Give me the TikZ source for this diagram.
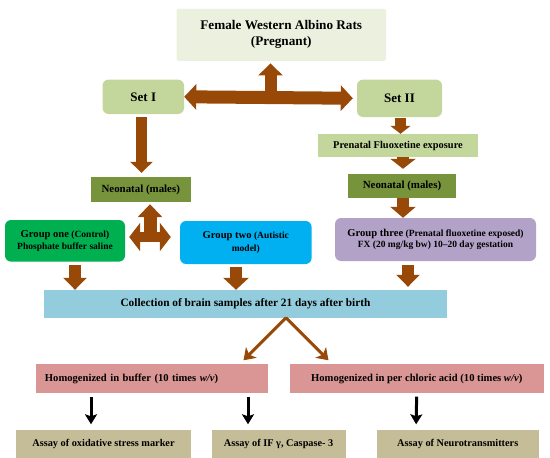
\documentclass[tikz,border=0pt]{standalone}
\usepackage{fontspec}
\setmainfont{Liberation Serif}
\usetikzlibrary{arrows.meta,positioning,calc}

\definecolor{ratsbg}{HTML}{EBF1DE}
\definecolor{setbg}{HTML}{C3D69B}
\definecolor{neobg}{HTML}{77933C}
\definecolor{gonebg}{HTML}{00B050}
\definecolor{gtwobg}{HTML}{00B0F0}
\definecolor{gthreebg}{HTML}{B3A2C7}
\definecolor{collbg}{HTML}{93CDDD}
\definecolor{homobg}{HTML}{D99694}
\definecolor{assaybg}{HTML}{C4BD97}
\definecolor{arrbrown}{HTML}{984807}

\newcommand{\fs}[1]{\fontsize{#1}{#1}\selectfont}

\tikzset{
  box/.style={inner sep=0pt, align=center, font=\bfseries\fs{10}},
  roundbox/.style={box, rounded corners=6pt},
  fat/.style={draw=arrbrown, line width=12pt, -{Triangle[width=24pt,length=12pt]}},
  thinfat/.style={draw=arrbrown, line width=3pt, -{Stealth[width=15pt,length=11pt,inset=3pt]}},
  blk/.style={draw=black, line width=3pt, -{Stealth[width=12pt,length=10pt,inset=2pt]}}
}

\begin{document}
\begin{tikzpicture}[x=1pt, y=-1pt]
  \useasboundingbox (0,0) rectangle (550,458);

  % boxes
  \node[box, fill=ratsbg, rounded corners=2pt, minimum width=209.5pt, minimum height=52pt, font=\bfseries\fs{13.2}]
    (rats) at (281.25,34.75) {Female Western Albino Rats\\[3pt](Pregnant)};
  \node[roundbox, fill=setbg, minimum width=81.5pt, minimum height=34.4pt, font=\bfseries\fs{13}] (setI) at (143.25,96.8) {Set I};
  \node[roundbox, fill=setbg, minimum width=85pt, minimum height=37.4pt, font=\bfseries\fs{13}] (setII) at (399.5,98.3) {Set II};
  \node[box, fill=setbg, minimum width=160pt, minimum height=23pt, font=\bfseries\fs{10.4}] (prenatal) at (398,145.5) {Prenatal Fluoxetine exposure};
  \node[box, fill=neobg, minimum width=100.5pt, minimum height=25pt, font=\bfseries\fs{10.9}] (neoL) at (140.75,189.5) {Neonatal (males)};
  \node[box, fill=neobg, minimum width=108pt, minimum height=24pt, font=\bfseries\fs{10.9}] (neoR) at (402,186) {Neonatal (males)};
  \node[roundbox, fill=gonebg, minimum width=120pt, minimum height=41.6pt, font=\bfseries\fs{9.5}]
    (gone) at (65,240.8) {{\fs{10.6}Group one} (Control)\\[3pt]Phosphate buffer saline};
  \node[roundbox, fill=gtwobg, minimum width=131.6pt, minimum height=43pt, font=\bfseries\fs{9.5}]
    (gtwo) at (245.8,242.5) {{\fs{10.6}Group two} (Autistic\\[4pt]model)};
  \node[roundbox, fill=gthreebg, minimum width=201pt, minimum height=43pt, font=\bfseries\fs{9.5}]
    (gthree) at (435.5,239.5) {{\fs{10.6}Group three} (Prenatal fluoxetine exposed)\\[2pt]FX (20 mg/kg bw) 10–20 day gestation};
  \node[box, fill=collbg, minimum width=403pt, minimum height=27.5pt, font=\bfseries\fs{11.3}]
    (collect) at (245.5,303.75) {Collection of brain samples after 21 days after birth};
  \node[box, fill=homobg, text width=214pt, inner xsep=9pt, minimum height=29pt, align=left, font=\bfseries\fs{10.6}]
    (homA) at (152,378.5) {Homogenized in buffer (10 times \textit{w/v})};
  \node[box, fill=homobg, minimum width=254.5pt, minimum height=29pt, font=\bfseries\fs{10.6}]
    (homB) at (416.75,378.5) {Homogenized in per chloric acid (10 times \textit{w/v})};
  \node[box, fill=assaybg, minimum width=175pt, minimum height=28pt, font=\bfseries\fs{10.3}] (assA) at (103.5,444) {Assay of oxidative stress marker};
  \node[box, fill=assaybg, minimum width=134pt, minimum height=28pt, font=\bfseries\fs{10.3}] (assB) at (278.6,444) {Assay of IF γ, Caspase- 3};
  \node[box, fill=assaybg, minimum width=162.5pt, minimum height=28pt, font=\bfseries\fs{10.3}] (assC) at (457.75,444) {Assay of Neurotransmitters};

  % brown arrows
  \draw[fat, line width=13pt, {Triangle[width=25pt,length=12pt]}-{Triangle[width=25pt,length=12pt]}, shorten >=4pt]
    (setI.east) -- coordinate (mid) (setII.west);
  \draw[fat, shorten >=2.5pt] ([yshift=6pt]mid) -- (mid |- rats.south);
  \draw[fat, line width=11pt, -{Triangle[width=22pt,length=11pt]}, shorten <=3pt, shorten >=4pt]
    ([xshift=-1.75pt]setI.south) -- ([xshift=0.75pt]neoL.north);
  \draw[fat, line width=11pt, -{Triangle[width=20pt,length=8pt]}, shorten <=1pt]
    ([xshift=1pt]setII.south) -- ([xshift=2.5pt]prenatal.north);
  \draw[fat, -{Triangle[width=25pt,length=10pt]}, shorten >=5pt]
    ([xshift=5pt]prenatal.south) -- ([xshift=1pt]neoR.north);
  \draw[fat, -{Triangle[width=25pt,length=11pt]}]
    ([xshift=1pt]neoR.south) -- ([xshift=-32.5pt]gthree.north);
  % three-way arrow
  \coordinate (tri) at (150,237);
  \draw[fat, line width=13pt, -{Triangle[width=24pt,length=13pt]}, shorten >=2pt] ([yshift=-5pt]tri) -- (tri |- neoL.south);
  \draw[fat, line width=10pt, {Triangle[width=28pt,length=11pt]}-{Triangle[width=28pt,length=11pt]}, shorten <=4pt, shorten >=9pt]
    (gone.east |- tri) -- (gtwo.west |- tri);
  % to collection
  \draw[fat, -{Triangle[width=23pt,length=12pt]}, shorten <=3pt] ([xshift=10pt]gone.south) -- ([xshift=-170.5pt]collect.north);
  \draw[fat, -{Triangle[width=25pt,length=12pt]}, shorten <=3pt] ([xshift=-9.8pt]gtwo.south) -- ([xshift=-9.5pt]collect.north);
  \draw[fat, -{Triangle[width=23pt,length=12pt]}, shorten <=4pt, shorten >=3pt] ([xshift=-27.5pt]gthree.south) -- ([xshift=162.5pt]collect.north);
  % split
  \coordinate (split) at ([xshift=40.5pt]collect.south);
  \draw[thinfat, shorten >=5pt] (split) -- ([xshift=88pt]homA.north);
  \draw[thinfat, shorten >=5pt] (split) -- ([xshift=-84.75pt]homB.north);

  % black arrows
  \draw[blk, shorten <=3.5pt, shorten >=5.5pt] ([xshift=-61pt]homA.south) -- ([xshift=-12.5pt]assA.north);
  \draw[blk, shorten <=3.5pt, shorten >=5.5pt] ([xshift=96pt]homA.south) -- ([xshift=-30.6pt]assB.north);
  \draw[blk, shorten <=3.5pt, shorten >=5.5pt] (homB.south) -- ([xshift=-41.75pt]assC.north);
\end{tikzpicture}
\end{document}
